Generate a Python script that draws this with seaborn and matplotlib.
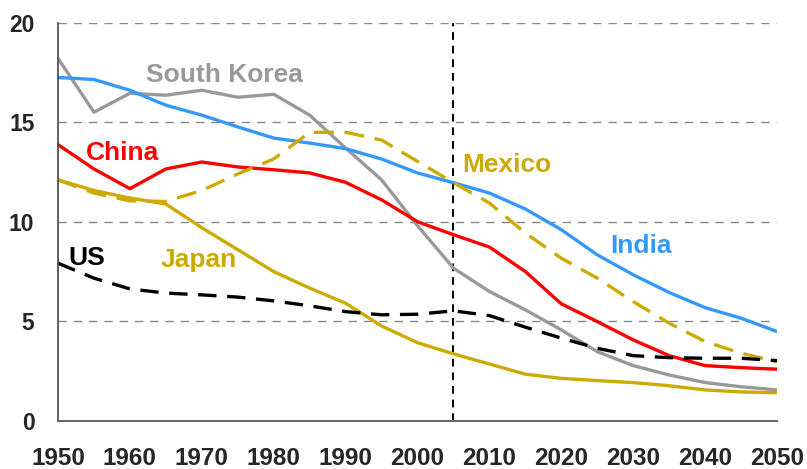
import pandas as pd
import seaborn as sns
import matplotlib.pyplot as plt
from matplotlib.ticker import MultipleLocator

years = list(range(1950, 2051, 5))

south_korea = [18.2, 15.5, 16.45, 16.35, 16.6, 16.25, 16.4, 15.35, 13.7, 12.1, 9.8,
               7.67, 6.5, 5.58, 4.57, 3.48, 2.78, 2.31, 1.93, 1.72, 1.56]
india = [17.24, 17.14, 16.6, 15.85, 15.35, 14.76, 14.2, 13.95, 13.67, 13.15, 12.45,
         11.96, 11.44, 10.64, 9.6, 8.34, 7.34, 6.45, 5.69, 5.16, 4.49]
china = [13.87, 12.65, 11.66, 12.65, 13.0, 12.75, 12.61, 12.45, 11.98, 11.1, 10.0,
         9.35, 8.73, 7.5, 5.88, 4.99, 4.07, 3.28, 2.78, 2.68, 2.6]
japan = [12.1, 11.57, 11.19, 10.89, 9.7, 8.6, 7.5, 6.67, 5.91, 4.77, 3.93,
         3.37, 2.86, 2.35, 2.14, 2.03, 1.93, 1.77, 1.56, 1.46, 1.42]
mexico = [12.1, 11.44, 11.05, 11.02, 11.57, 12.4, 13.15, 14.49, 14.49, 14.1, 13.03,
          11.96, 10.94, 9.43, 8.17, 7.17, 5.99, 4.91, 3.99, 3.4, 2.98]
us = [7.92, 7.17, 6.63, 6.42, 6.33, 6.22, 6.03, 5.78, 5.49, 5.33, 5.36,
      5.53, 5.29, 4.71, 4.16, 3.65, 3.28, 3.18, 3.15, 3.15, 3.03]

series = {'South Korea': south_korea, 'India': india, 'China': china,
          'Japan': japan, 'Mexico': mexico, 'US': us}

colors = {'South Korea': '#999999', 'India': '#3399FF', 'China': '#FF0000',
          'Japan': '#CCAA00', 'Mexico': '#CCAA00', 'US': '#000000'}
dashes = {'South Korea': '', 'India': '', 'China': '', 'Japan': '',
          'Mexico': (6, 3.2), 'US': (5.5, 3.2)}

# label positions (left / baseline, data coords)
labels = {'South Korea': (1962.2, 17.0), 'China': (1953.9, 13.08),
          'Mexico': (2006.2, 12.48), 'India': (2026.8, 8.42),
          'US': (1951.4, 7.84), 'Japan': (1964.3, 7.75)}

df = pd.DataFrame([(c, y, v) for c, vals in series.items() for y, v in zip(years, vals)],
                  columns=['country', 'year', 'value'])

sns.set_style('white')
plt.rcParams['font.family'] = ['Liberation Sans', 'DejaVu Sans']

fig = plt.figure(figsize=(8.07, 4.69), dpi=100)
ax = fig.add_axes([0.0719, 0.1023, 0.891, 0.8497])

for y in [5, 10, 15, 20]:
    ax.axhline(y, color='#888888', lw=1, ls=(0, (6, 5)), zorder=0)

sns.lineplot(data=df, x='year', y='value', hue='country', style='country',
             palette=colors, dashes=dashes, linewidth=2.4, legend=False, ax=ax)

ax.axvline(2005, color='black', lw=1.4, ls=(0, (4, 3)), zorder=1)

for name, (x, y) in labels.items():
    ax.text(x, y, name, color=colors[name], fontsize=19, fontweight='bold',
            ha='left', va='baseline')

ax.set_xlim(1950, 2050)
ax.set_ylim(0, 20)
ax.xaxis.set_major_locator(MultipleLocator(10))
ax.xaxis.set_minor_locator(MultipleLocator(5))
ax.yaxis.set_major_locator(MultipleLocator(5))
ax.set_xlabel('')
ax.set_ylabel('')

for s in ['top', 'right']:
    ax.spines[s].set_visible(False)
ax.spines['bottom'].set_color('#666666')
ax.spines['left'].set_color('#444444')
ax.spines['bottom'].set_linewidth(1.4)
ax.spines['left'].set_linewidth(1.2)

ax.tick_params(axis='x', which='major', direction='inout', length=12, width=1.2,
               color='#444444', labelsize=17.5, pad=13)
ax.tick_params(axis='x', which='minor', direction='out', length=5, width=1.2,
               color='#444444')
ax.tick_params(axis='y', which='major', direction='out', length=7, width=1.2,
               color='#444444', labelsize=16.5, pad=10)
for t in ax.get_xticklabels() + ax.get_yticklabels():
    t.set_fontweight('bold')

fig.savefig('out.png', dpi=100)
